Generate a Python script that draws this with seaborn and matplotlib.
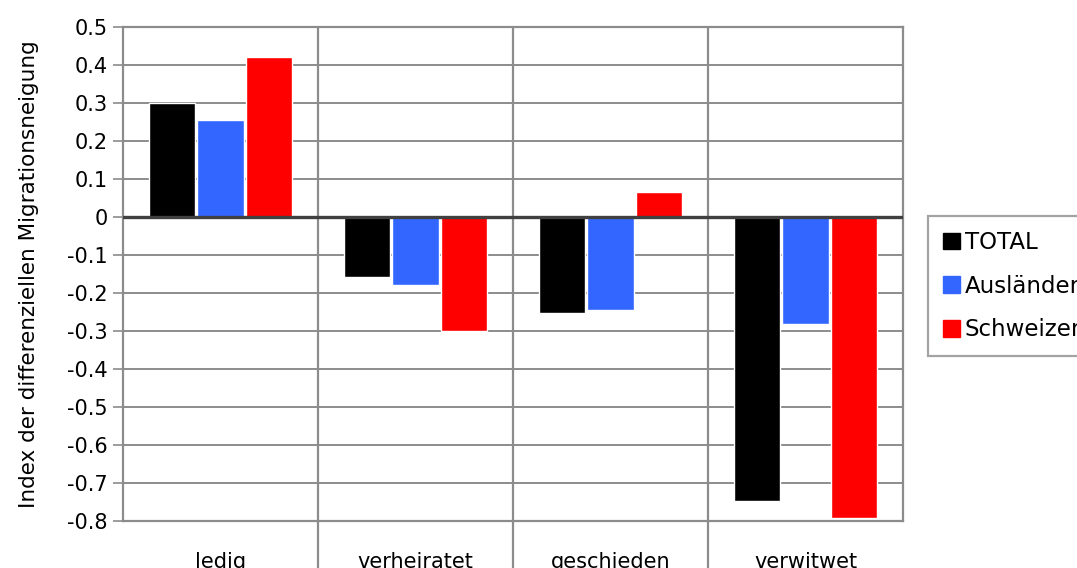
import numpy as np
import pandas as pd
import matplotlib
matplotlib.use("Agg")
import matplotlib.pyplot as plt
import seaborn as sns

# Zivilstand categories and index values per population group
categories = ["ledig", "verheiratet", "geschieden", "verwitwet"]
groups = ["TOTAL", "Ausländer", "Schweizer"]
total = [0.30, -0.158, -0.253, -0.747]
auslaender = [0.254, -0.178, -0.245, -0.281]
schweizer = [0.42, -0.30, 0.066, -0.792]
colors = ["#000000", "#3366FF", "#FF0000"]
y_ticks = [0.5, 0.4, 0.3, 0.2, 0.1, 0, -0.1, -0.2, -0.3, -0.4, -0.5, -0.6, -0.7, -0.8]

df = pd.DataFrame({
    "Zivilstand": categories * 3,
    "Gruppe": [g for g in groups for _ in categories],
    "Index": total + auslaender + schweizer,
})

sns.set_style("white", {"text.color": "black", "axes.labelcolor": "black",
                        "xtick.color": "black", "ytick.color": "black"})
plt.rcParams["font.family"] = ["DejaVu Sans"]

fig = plt.figure(figsize=(10.77, 5.68), dpi=100)
ax = fig.add_axes([0.1142, 0.0827, 0.7242, 0.8698])

sns.barplot(data=df, x="Zivilstand", y="Index", hue="Gruppe",
            order=categories, hue_order=groups, palette=colors,
            width=0.75, gap=0.05, saturation=1, errorbar=None,
            ax=ax, zorder=3, legend=False)

ax.set_ylim(-0.8, 0.5)
ax.set_xlim(-0.5, len(categories) - 0.5)
ax.set_yticks(y_ticks)
ax.set_yticklabels([f"{t:g}" for t in y_ticks], fontsize=15)
ax.yaxis.grid(True, color="#8c8c8c", linewidth=1.4, zorder=0)
ax.set_axisbelow(True)
ax.tick_params(axis="y", length=7, width=1.2, color="#8c8c8c", labelcolor="black",
               pad=4, left=True)
ax.tick_params(axis="x", length=0, pad=22, labelsize=15, labelcolor="black")
ax.set_xlabel("")
ax.set_ylabel("Index der differenziellen Migrationsneigung", fontsize=15.5,
              labelpad=20, color="black")

for s in ax.spines.values():
    s.set_color("#8c8c8c")
    s.set_linewidth(1.6)

# zero baseline
ax.axhline(0, color="#404040", linewidth=2.4, zorder=4)

# category separators reaching below the plot area
ax.vlines([0.5, 1.5, 2.5], -0.1, 1.0, transform=ax.get_xaxis_transform(),
          colors="#8c8c8c", linewidth=1.6, clip_on=False, zorder=1)

# legend
handles = [plt.Rectangle((0, 0), 1, 1, color=c) for c in colors]
leg = fig.legend(handles, groups, loc="upper left",
                 bbox_to_anchor=(928 / 1077, 1 - 216 / 568),
                 fontsize=16.5, frameon=True, fancybox=False,
                 handlelength=0.75, handleheight=0.75, handletextpad=0.2,
                 labelspacing=0.9, borderpad=0.65, borderaxespad=0,
                 labelcolor="black")
leg.get_frame().set_edgecolor("#8c8c8c")
leg.get_frame().set_linewidth(1.6)

fig.savefig("out.png", dpi=100)
